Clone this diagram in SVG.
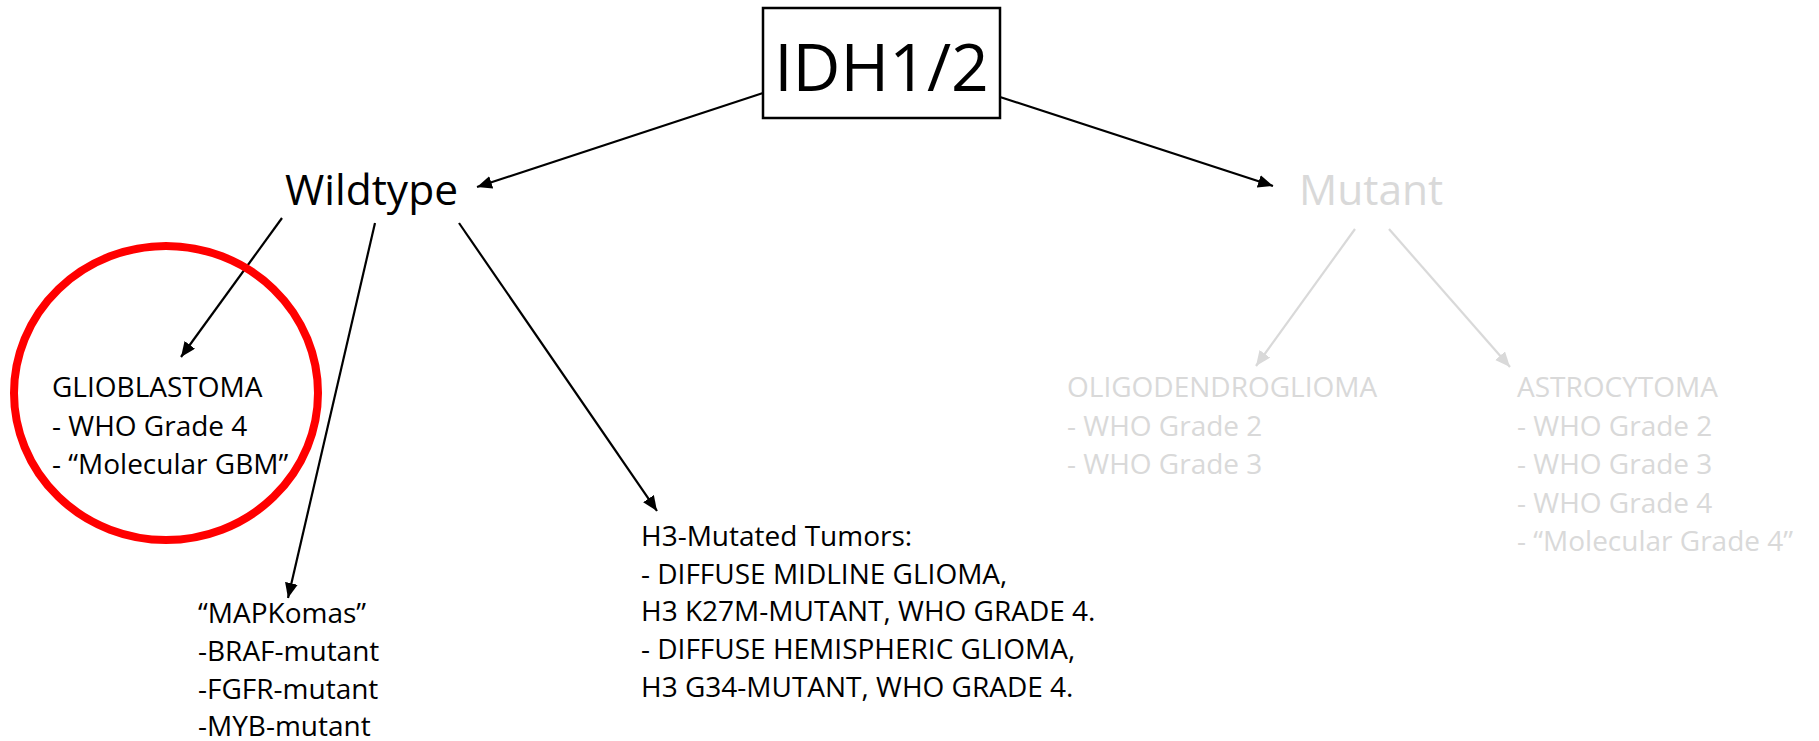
<svg xmlns="http://www.w3.org/2000/svg" width="1819" height="741" viewBox="0 0 1819 741">
<style>
  text { font-family: "Open Sans", "Liberation Sans", Arial, sans-serif; }
  .body { font-size: 28px; fill: #000000; }
  .gray { font-size: 28px; fill: #D9D9D9; }
  .big { font-size: 42.5px; }
  .conn { stroke: #000000; stroke-width: 2.2; fill: none; marker-end: url(#ah); }
  .connG { stroke: #D9D9D9; stroke-width: 2.2; fill: none; marker-end: url(#ahG); }
</style>
<defs>
  <marker id="ah" markerUnits="userSpaceOnUse" markerWidth="16" markerHeight="14" refX="15" refY="6.5" orient="auto" viewBox="0 0 16 14">
    <path d="M0,0 L15,6.5 L0,13 z" fill="#000000"/>
  </marker>
  <marker id="ahG" markerUnits="userSpaceOnUse" markerWidth="16" markerHeight="14" refX="15" refY="6.5" orient="auto" viewBox="0 0 16 14">
    <path d="M0,0 L15,6.5 L0,13 z" fill="#D9D9D9"/>
  </marker>
</defs>
<rect width="1819" height="741" fill="#FFFFFF"/>

<g id="connectors">
  <line class="conn" x1="763" y1="93" x2="477" y2="187"/>
  <line class="conn" x1="1000" y1="97" x2="1273" y2="186"/>
  <line class="conn" x1="282" y1="218" x2="181" y2="357"/>
  <line class="conn" x1="375" y1="223" x2="288" y2="598"/>
  <line class="conn" x1="459" y1="223" x2="657" y2="511"/>
  <line class="connG" x1="1355" y1="229" x2="1256" y2="366"/>
  <line class="connG" x1="1389" y1="229" x2="1510" y2="367"/>
</g>

<g id="idh">
  <rect x="763" y="8" width="237" height="110" fill="#FFFFFF" stroke="#000000" stroke-width="2.5"/>
  <text x="881.5" y="91" font-size="66" text-anchor="middle" font-family="Liberation Sans, Arial, sans-serif">IDH1/2</text>
</g>

<g id="wildtype">
  <text class="big" x="285" y="205">Wildtype</text>
</g>

<g id="mutant">
  <text class="big" x="1299" y="205" fill="#D9D9D9">Mutant</text>
</g>

<g id="glioblastoma">
  <ellipse cx="166" cy="393" rx="152" ry="147" fill="none" stroke="#FF0000" stroke-width="8"/>
  <text class="body" x="52" y="397">GLIOBLASTOMA</text>
  <text class="body" x="52" y="436">- WHO Grade 4</text>
  <text class="body" x="52" y="474">- “Molecular GBM”</text>
</g>

<g id="mapkomas">
  <text class="body" x="198" y="623">“MAPKomas”</text>
  <text class="body" x="198" y="661">-BRAF-mutant</text>
  <text class="body" x="198" y="699">-FGFR-mutant</text>
  <text class="body" x="198" y="736">-MYB-mutant</text>
</g>

<g id="h3">
  <text class="body" x="641" y="546">H3-Mutated Tumors:</text>
  <text class="body" x="641" y="584">- DIFFUSE MIDLINE GLIOMA,</text>
  <text class="body" x="641" y="621">H3 K27M-MUTANT, WHO GRADE 4.</text>
  <text class="body" x="641" y="659">- DIFFUSE HEMISPHERIC GLIOMA,</text>
  <text class="body" x="641" y="697">H3 G34-MUTANT, WHO GRADE 4.</text>
</g>

<g id="oligodendroglioma">
  <text class="gray" x="1067" y="397">OLIGODENDROGLIOMA</text>
  <text class="gray" x="1067" y="436">- WHO Grade 2</text>
  <text class="gray" x="1067" y="474">- WHO Grade 3</text>
</g>

<g id="astrocytoma">
  <text class="gray" x="1517" y="397">ASTROCYTOMA</text>
  <text class="gray" x="1517" y="436">- WHO Grade 2</text>
  <text class="gray" x="1517" y="474">- WHO Grade 3</text>
  <text class="gray" x="1517" y="513">- WHO Grade 4</text>
  <text class="gray" x="1517" y="551">- “Molecular Grade 4”</text>
</g>
</svg>
